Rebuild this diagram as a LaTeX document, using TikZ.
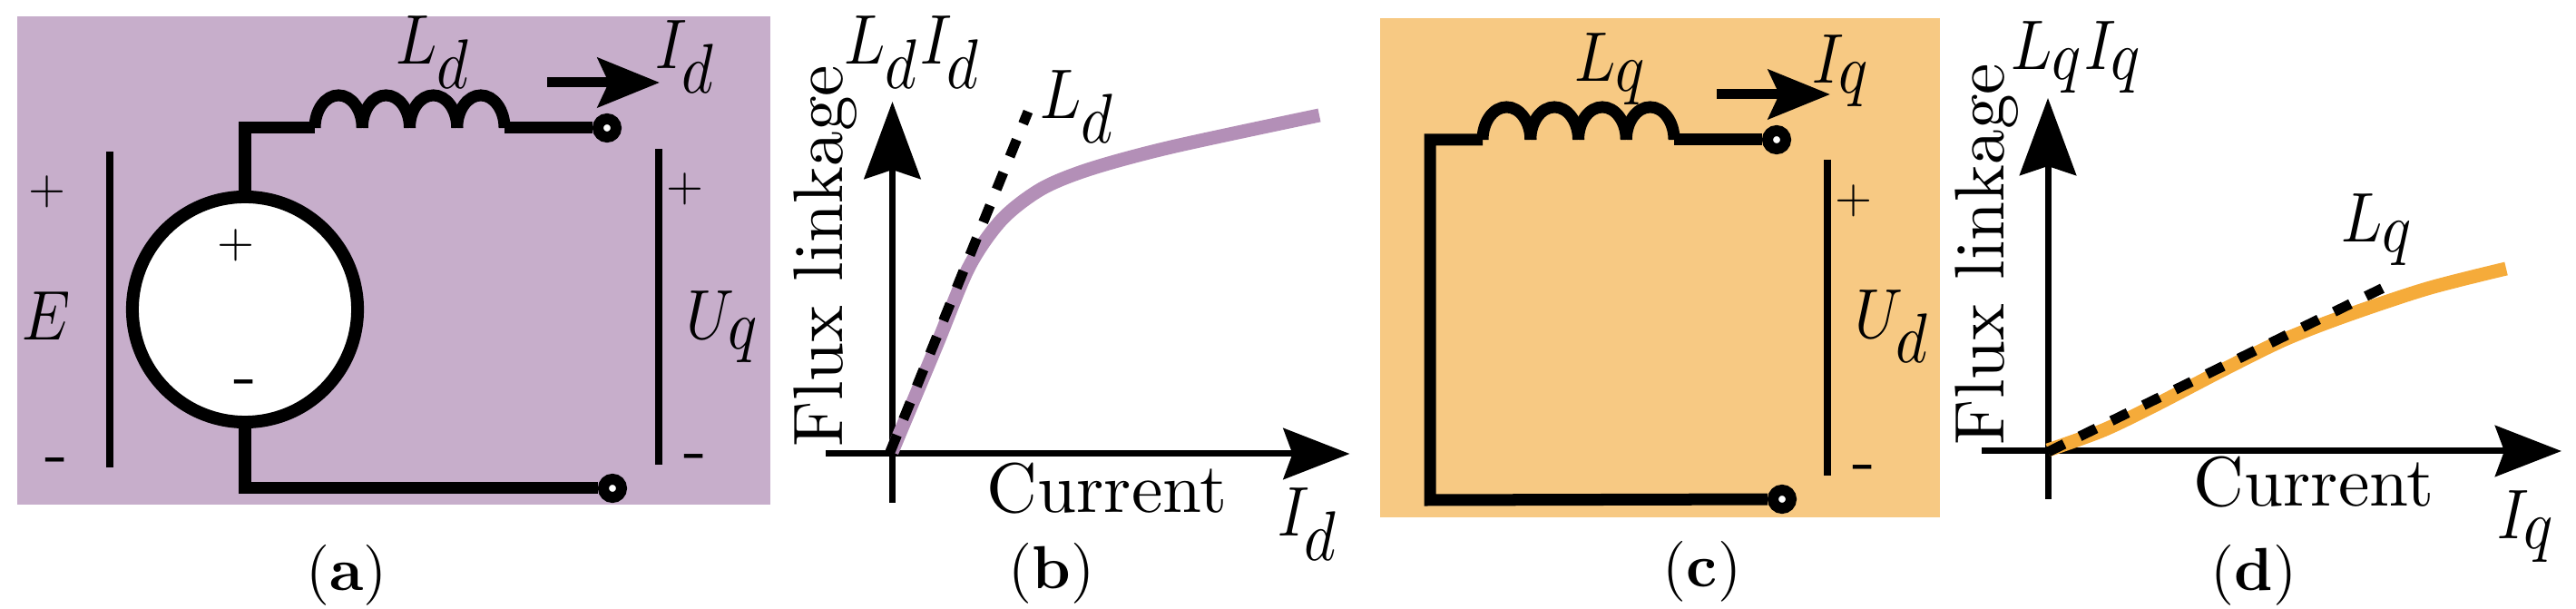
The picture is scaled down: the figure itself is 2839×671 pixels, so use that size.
\documentclass[tikz,border=0pt]{standalone}
\usetikzlibrary{arrows.meta}
\definecolor{plumbg}{HTML}{C7AECB}
\definecolor{plumline}{HTML}{B38FB7}
\definecolor{orangebg}{HTML}{F7C983}
\definecolor{orangeline}{HTML}{F5AB3A}
\newcommand{\symb}[2]{$#1_{\textstyle #2}$}
\tikzset{
	wire/.style = {line width=0.13cm},
	thinbar/.style = {line width=0.08cm},
	terminal/.style = {circle, draw, fill=white, line width=0.12cm, minimum size=0.2cm, inner sep=0},
	source/.style = {circle, draw, fill=white, line width=0.14cm, minimum size=2.48cm, inner sep=0},
	lbl/.style = {inner sep=0, scale=2.2, transform shape},
	mathlbl/.style = {inner sep=0, xscale=1.9, yscale=2.2, transform shape},
	sign/.style = {inner sep=0, scale=1.5, transform shape},
	tag/.style = {inner sep=0, scale=1.9, transform shape},
	flowarrow/.style = {line width=0.11cm, -{Stealth[length=0.68cm, width=0.54cm, inset=0.12cm]}},
	yaxis/.style = {line width=0.07cm, -{Stealth[length=0.85cm, width=0.62cm, inset=0.1cm]}},
	xaxis/.style = {line width=0.07cm, -{Stealth[length=0.73cm, width=0.56cm, inset=0.1cm]}},
	curve/.style = {line width=0.15cm},
	slope/.style = {line width=0.11cm, dash pattern=on 0.2cm off 0.19cm}
}
\begin{document}
\begin{tikzpicture}[x=0.01cm, y=-0.01cm]
	\useasboundingbox (0,0) rectangle (2839,671);
	% panel a
	\fill[plumbg] (19,18) rectangle (849,556);
	\node[source] (srcA) at (270,341) {};
	\node[terminal] (termAtop) at (669,141) {};
	\node[terminal] (termAbot) at (675,538) {};
	\coordinate (cornerAtop) at (270,141);
	\coordinate (cornerAbot) at (270,538);
	\coordinate (coilAin) at (347,141);
	\coordinate (coilAout) at (556,141);
	\draw[wire] (srcA.north) -- (cornerAtop) -- (coilAin);
	\draw[wire] (coilAout) -- (termAtop);
	\draw[wire] (srcA.south) -- (cornerAbot) -- (termAbot);
	\foreach \k in {0,...,3}
		{
			\draw[wire] (coilAin) ++(52.25*\k,0) arc[start angle=180, end angle=0, x radius=0.26125cm, y radius=0.36cm];
		}
	\coordinate (flowAa) at (603,91);
	\coordinate (flowAb) at (727,91);
	\draw[flowarrow] (flowAa) -- (flowAb);
	\coordinate (barAa) at (121,167);
	\coordinate (barAb) at (121,515);
	\coordinate (barAc) at (726,164);
	\coordinate (barAd) at (726,512);
	\draw[thinbar] (barAa) -- (barAb);
	\draw[thinbar] (barAc) -- (barAd);
	\node[mathlbl] (eA) at (51,348) {$E$};
	\node[sign] (plusAa) at (52,211) {$+$};
	\node[lbl] (minusAa) at (62,514) {-};
	\node[sign] (plusAb) at (260,270) {$+$};
	\node[lbl] (minusAb) at (270,428) {-};
	\node[sign] (plusAc) at (755,208) {$+$};
	\node[lbl] (minusAc) at (766,510) {-};
	\node[mathlbl] (uA) at (797,360) {\symb{U}{q}};
	\node[mathlbl] (lA) at (478,58) {\symb{L}{d}};
	\node[mathlbl] (iA) at (756,63) {\symb{I}{d}};
	\node[tag] (tagA) at (382,634) {(\textbf{a})};
	% panel b
	\coordinate (yBa) at (983.5,554);
	\coordinate (yBb) at (983.5,112);
	\coordinate (xBa) at (910,500);
	\coordinate (xBb) at (1487.5,500);
	\draw[yaxis] (yBa) -- (yBb);
	\draw[xaxis] (xBa) -- (xBb);
	\draw[curve, plumline] plot[smooth, tension=0.5] coordinates {(983,498) (1032,381) (1068,294) (1104,242) (1148,208) (1202,186) (1291,162) (1454,127)};
	\coordinate (slopeBa) at (981,498);
	\coordinate (slopeBb) at (1133,123);
	\draw[slope] (slopeBa) -- (slopeBb);
	\node[mathlbl] (lB) at (1188,118) {\symb{L}{d}};
	\node[mathlbl] (fluxB) at (1006,58) {\symb{L}{d}\symb{I}{d}};
	\node[lbl, rotate=90, anchor=base] (yB) at (928.6,282) {Flux linkage};
	\node[lbl, anchor=base] (xB) at (1220,565) {Current};
	\node[mathlbl] (iB) at (1442,578) {\symb{I}{d}};
	\node[tag] (tagB) at (1159,632) {(\textbf{b})};
	% panel c
	\fill[orangebg] (1521,20) rectangle (2138,570);
	\node[terminal] (termCtop) at (1958,154) {};
	\node[terminal] (termCbot) at (1964,550) {};
	\coordinate (cornerCtop) at (1576,154);
	\coordinate (cornerCbot) at (1576,551);
	\coordinate (coilCin) at (1634,154);
	\coordinate (coilCout) at (1845,154);
	\draw[wire] (coilCin) -- (cornerCtop) -- (cornerCbot) -- (termCbot);
	\draw[wire] (coilCout) -- (termCtop);
	\foreach \k in {0,...,3}
		{
			\draw[wire] (coilCin) ++(52.75*\k,0) arc[start angle=180, end angle=0, x radius=0.26375cm, y radius=0.36cm];
		}
	\coordinate (flowCa) at (1892,104);
	\coordinate (flowCb) at (2017,104);
	\draw[flowarrow] (flowCa) -- (flowCb);
	\coordinate (barCa) at (2014,176);
	\coordinate (barCb) at (2014,524);
	\draw[thinbar] (barCa) -- (barCb);
	\node[sign] (plusC) at (2043,221) {$+$};
	\node[lbl] (minusC) at (2054,522) {-};
	\node[mathlbl] (uC) at (2086,360) {\symb{U}{d}};
	\node[mathlbl] (lC) at (1776,76) {\symb{L}{q}};
	\node[mathlbl] (iC) at (2030,78) {\symb{I}{q}};
	\node[tag] (tagC) at (1876,630) {(\textbf{c})};
	% panel d
	\coordinate (yDa) at (2257,550);
	\coordinate (yDb) at (2257,108);
	\coordinate (xDa) at (2184,497);
	\coordinate (xDb) at (2823,497);
	\draw[yaxis] (yDa) -- (yDb);
	\draw[xaxis] (xDa) -- (xDb);
	\draw[curve, orangeline] plot[smooth, tension=0.5] coordinates {(2257,496) (2318,474) (2376,446) (2451,407) (2518,374) (2585,348) (2675,318) (2762,296)};
	\coordinate (slopeDa) at (2257,498);
	\coordinate (slopeDb) at (2637,312);
	\draw[slope] (slopeDa) -- (slopeDb);
	\node[mathlbl] (lD) at (2621,253) {\symb{L}{q}};
	\node[mathlbl] (fluxD) at (2289,63) {\symb{L}{q}\symb{I}{q}};
	\node[lbl, rotate=90, anchor=base] (yD) at (2208,280) {Flux linkage};
	\node[lbl, anchor=base] (xD) at (2550,558) {Current};
	\node[mathlbl] (iD) at (2785,580) {\symb{I}{q}};
	\node[tag] (tagD) at (2484,634) {(\textbf{d})};
\end{tikzpicture}
\end{document}
